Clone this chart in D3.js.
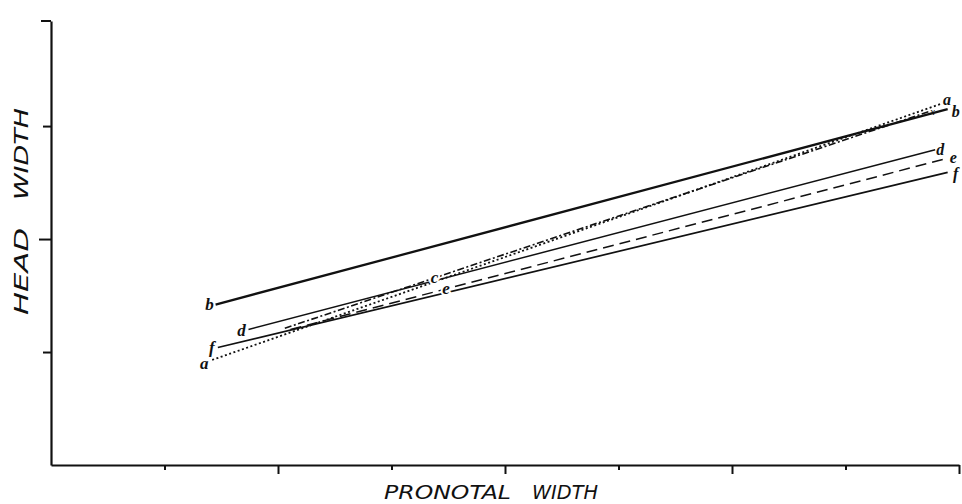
<!DOCTYPE html>
<html>
<head>
<meta charset="utf-8">
<script src="https://cdn.jsdelivr.net/npm/d3@7"></script>
<style>
  html, body { margin: 0; padding: 0; background: #fff; }
  svg { display: block; }
</style>
</head>
<body>
<svg id="chart" width="962" height="504"></svg>
<script>
// ---- data ----
const categories = ["a", "b", "c", "d", "e", "f"];
const xStart = [1.42, 1.45, 2.06, 1.74, 2.11, 1.47];
const yStart = [0.93, 1.42, 1.21, 1.20, 1.20, 1.04];
const xEnd   = [7.85, 7.90, 7.74, 7.79, 7.88, 7.90];
const yEnd   = [3.20, 3.15, 3.13, 2.79, 2.71, 2.59];
const xTicks = [1, 2, 3, 4, 5, 6, 7, 8];
const xMajorTicks = [2, 4, 6, 8];
const yTicks = [1, 2, 3];
const yMajorTicks = [2];
const xTitle = "PRONOTAL WIDTH";
const yTitle = "HEAD WIDTH";
const leftLabelled = ["a", "b", "d", "f"];
const rightLabelled = ["a", "b", "d", "e", "f"];
const midLabelled = ["c", "e"];
const midLabelX = [3.38, 3.48];

// ---- styling ----
const styles = {
  a: { width: 1.8, dash: "2,2.5" },
  b: { width: 2.3, dash: null },
  c: { width: 1.6, dash: "7,2.5,2,2.5" },
  d: { width: 1.5, dash: null },
  e: { width: 1.5, dash: "11,6" },
  f: { width: 1.7, dash: null }
};
const leftOff = { a: [-8, 4], b: [-6, 0], d: [-7, 1], f: [-6, 0] };
const rightOff = { a: [5, -4], b: [8, 2], d: [5, 0], e: [8, -1], f: [8, 1] };

const svg = d3.select("#chart");
const x = d3.scaleLinear().domain([0, 8]).range([51, 959]);
const y = d3.scaleLinear().domain([0, 3.93]).range([465, 21]);

const series = categories.map((k, i) => ({
  key: k,
  pts: [[xStart[i], yStart[i]], [xEnd[i], yEnd[i]]]
}));

// axes
const axisG = svg.append("g");
const xAxis = d3.axisBottom(x).tickValues(xTicks).tickFormat("")
  .tickSizeInner(0).tickSizeOuter(0);
const gx = axisG.append("g").attr("transform", `translate(0,${y(0)})`).call(xAxis);
gx.select(".domain").attr("stroke", "#111").attr("stroke-width", 2.2);
gx.selectAll(".tick line")
  .attr("stroke", "#111").attr("stroke-width", 2)
  .attr("y2", d => xMajorTicks.includes(d) ? 9 : 5);
const yAxis = d3.axisLeft(y).tickValues(yTicks).tickFormat("")
  .tickSizeInner(0).tickSizeOuter(0);
const gy = axisG.append("g").attr("transform", `translate(${x(0)},0)`).call(yAxis);
gy.select(".domain").attr("stroke", "#111").attr("stroke-width", 2.2);
gy.selectAll(".tick line")
  .attr("stroke", "#111").attr("stroke-width", 2)
  .attr("x2", d => yMajorTicks.includes(d) ? -12 : -8);
gy.append("line")
  .attr("x1", 0).attr("x2", -10)
  .attr("y1", y(3.93)).attr("y2", y(3.93))
  .attr("stroke", "#111").attr("stroke-width", 2);

// lines
const line = d3.line().x(d => x(d[0])).y(d => y(d[1]));
svg.append("g").selectAll("path").data(series).join("path")
  .attr("d", d => line(d.pts))
  .attr("fill", "none")
  .attr("stroke", "#111")
  .attr("stroke-width", d => styles[d.key].width)
  .attr("stroke-dasharray", d => styles[d.key].dash);

const labelFont = "'Liberation Serif', 'DejaVu Serif', serif";
function addLabel(txt, px, py, halo, size) {
  const t = svg.append("text")
    .attr("x", px).attr("y", py)
    .attr("text-anchor", "middle")
    .attr("dominant-baseline", "central")
    .attr("font-family", labelFont)
    .attr("font-style", "italic")
    .attr("font-weight", "bold")
    .attr("font-size", size || 17)
    .attr("fill", "#111")
    .text(txt);
  if (halo) {
    t.attr("stroke", "#fff").attr("stroke-width", 4).attr("paint-order", "stroke");
  }
}
series.forEach(s => {
  if (leftLabelled.includes(s.key)) {
    const o = leftOff[s.key];
    addLabel(s.key, x(s.pts[0][0]) + o[0], y(s.pts[0][1]) + o[1], false);
  }
  if (rightLabelled.includes(s.key)) {
    const o = rightOff[s.key];
    addLabel(s.key, x(s.pts[1][0]) + o[0], y(s.pts[1][1]) + o[1], false, 16);
  }
});
midLabelled.forEach((k, i) => {
  const s = series.find(d => d.key === k);
  const [p0, p1] = s.pts;
  const t = (midLabelX[i] - p0[0]) / (p1[0] - p0[0]);
  const yv = p0[1] + t * (p1[1] - p0[1]);
  addLabel(k, x(midLabelX[i]), y(yv), true);
});
{
  const s = series.find(d => d.key === "c");
  svg.append("text")
    .attr("x", x(s.pts[1][0]) + 3).attr("y", y(s.pts[1][1]))
    .attr("text-anchor", "middle").attr("dominant-baseline", "central")
    .attr("font-family", labelFont).attr("font-style", "italic")
    .attr("font-size", 11).attr("fill", "#111").text("x");
}

// axis titles
const titleFont = "'DejaVu Sans', sans-serif";
const xt = svg.append("text")
  .attr("y", 499)
  .attr("font-family", titleFont).attr("font-style", "italic")
  .attr("font-size", 19).attr("fill", "#111");
const xWords = xTitle.split(" ");
xt.append("tspan").attr("x", 384).attr("textLength", 127).attr("lengthAdjust", "spacingAndGlyphs").text(xWords[0]);
xt.append("tspan").attr("x", 532).attr("textLength", 66).attr("lengthAdjust", "spacingAndGlyphs").text(xWords[1]);

const yWords = yTitle.split(" ");
const yt = svg.append("text")
  .attr("transform", "translate(28,0) rotate(-90)")
  .attr("font-family", titleFont).attr("font-style", "italic")
  .attr("font-size", 19).attr("fill", "#111");
yt.append("tspan").attr("x", -315).attr("textLength", 87).attr("lengthAdjust", "spacingAndGlyphs").text(yWords[0]);
yt.append("tspan").attr("x", -200).attr("textLength", 92).attr("lengthAdjust", "spacingAndGlyphs").text(yWords[1]);
</script>
</body>
</html>
